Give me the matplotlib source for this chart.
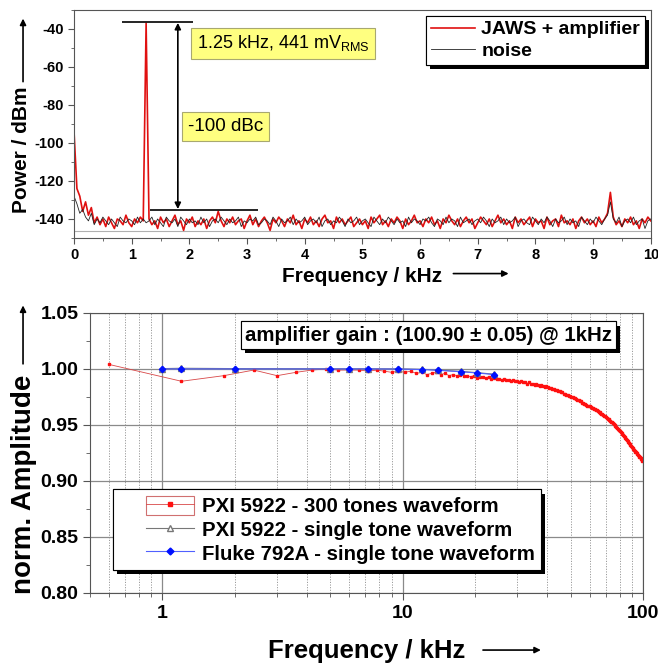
import matplotlib
matplotlib.use("Agg")
import matplotlib.pyplot as plt
import matplotlib.patheffects as pe
from matplotlib.lines import Line2D
from matplotlib.patches import Rectangle
from matplotlib.legend_handler import HandlerTuple, HandlerLine2D
from matplotlib.ticker import MultipleLocator, LogLocator, NullFormatter, FixedLocator
import numpy as np

plt.rcParams["font.family"] = ["Liberation Sans", "DejaVu Sans"]
plt.rcParams["font.weight"] = "bold"
plt.rcParams["axes.unicode_minus"] = False

# ---- spectrum (0..10 kHz, 0.05 kHz bins) ----
spec_freq = np.linspace(0, 10, 201)
jaws_dbm = [
    -94, -124, -128, -136, -131, -138, -134, -142, -139, -143, -140, -144, -139, -142, -145, -140, -141, -143, -138, -142,
    -144, -140, -142, -139, -141, -37, -140, -143, -141, -145, -139, -142, -140, -144, -141, -138, -143, -141, -146, -140,
    -142, -139, -144, -141, -143, -140, -145, -141, -139, -142, -136, -141, -144, -140, -142, -139, -143, -141, -140, -145,
    -141, -138, -143, -140, -144, -141, -139, -142, -146, -140, -142, -139, -141, -144, -140, -142, -138, -143, -141, -145,
    -140, -142, -139, -143, -141, -144, -140, -138, -142, -141, -145, -139, -142, -140, -143, -141, -139, -144, -142, -140,
    -143, -141, -145, -139, -142, -140, -138, -143, -141, -144, -140, -142, -139, -141, -145, -140, -143, -141, -138, -142,
    -141, -144, -140, -142, -139, -143, -141, -145, -140, -142, -138, -141, -143, -140, -144, -141, -139, -142, -140, -145,
    -142, -139, -141, -143, -140, -144, -141, -138, -142, -140, -143, -141, -145, -139, -142, -140, -143, -141, -139, -144,
    -140, -142, -141, -145, -139, -143, -141, -140, -144, -138, -142, -141, -143, -140, -145, -141, -139, -142, -140, -143,
    -141, -144, -139, -142, -140, -137, -126, -139, -143, -141, -144, -140, -142, -139, -143, -141, -145, -140, -142, -139,
    -141,
]
noise_dbm = [
    -128, -132, -137, -135, -139, -141, -137, -143, -140, -142, -139, -141, -143, -140, -142, -144, -139, -141, -142, -140,
    -141, -143, -139, -142, -140, -142, -141, -139, -143, -140, -142, -144, -139, -141, -142, -140, -144, -139, -141, -143,
    -140, -142, -141, -143, -139, -142, -140, -144, -141, -140, -142, -139, -141, -143, -140, -142, -141, -139, -144, -141,
    -142, -140, -141, -139, -143, -142, -140, -141, -143, -139, -141, -144, -140, -142, -141, -139, -143, -140, -142, -141,
    -139, -143, -141, -140, -142, -139, -144, -141, -140, -143, -141, -142, -139, -141, -144, -140, -142, -141, -139, -143,
    -141, -140, -142, -144, -139, -141, -143, -140, -142, -139, -141, -143, -140, -142, -141, -144, -139, -142, -140, -141,
    -143, -140, -141, -139, -142, -144, -140, -141, -143, -139, -142, -140, -141, -144, -139, -142, -141, -140, -143, -141,
    -140, -142, -139, -141, -144, -140, -142, -141, -139, -143, -140, -142, -141, -139, -144, -141, -140, -142, -143, -139,
    -141, -143, -140, -142, -139, -141, -144, -140, -142, -141, -139, -143, -140, -142, -141, -144, -139, -141, -143, -140,
    -142, -139, -141, -143, -140, -138, -131, -140, -142, -139, -144, -141, -140, -142, -139, -143, -141, -140, -145, -141,
    -140,
]
tone_dbm = -36.3
floor_dbm = -135.3

# ---- frequency response ----
multi_freq = 0.6 * np.arange(1, 167)
multi_amp = [
    1.004, 0.989, 0.994, 0.999, 0.994, 0.997, 0.999, 1.000, 0.999, 0.999,
    0.999, 0.998, 0.999, 0.998, 0.997, 0.998, 0.997, 0.998, 0.996, 0.997,
    0.995, 0.996, 0.997, 0.995, 0.996, 0.994, 0.995, 0.994, 0.995, 0.994,
    0.994, 0.993, 0.994, 0.992, 0.993, 0.993, 0.992, 0.993, 0.991, 0.992,
    0.991, 0.991, 0.990, 0.991, 0.990, 0.990, 0.989, 0.990, 0.989, 0.989,
    0.988, 0.989, 0.988, 0.988, 0.987, 0.988, 0.987, 0.987, 0.986, 0.987,
    0.986, 0.985, 0.986, 0.985, 0.984, 0.985, 0.984, 0.983, 0.983, 0.982,
    0.982, 0.981, 0.981, 0.980, 0.980, 0.979, 0.979, 0.978, 0.978, 0.977,
    0.977, 0.976, 0.976, 0.975, 0.975, 0.974, 0.974, 0.973, 0.972, 0.972,
    0.971, 0.971, 0.970, 0.970, 0.969, 0.969, 0.968, 0.967, 0.967, 0.9665,
    0.9660, 0.9655, 0.9650, 0.9645, 0.9639, 0.9634, 0.9629, 0.9623, 0.9618, 0.9612,
    0.9606, 0.9601, 0.9595, 0.9589, 0.9583, 0.9577, 0.9570, 0.9564, 0.9557, 0.9550,
    0.9543, 0.9536, 0.9529, 0.9522, 0.9515, 0.9507, 0.9499, 0.9491, 0.9483, 0.9475,
    0.9467, 0.9459, 0.9451, 0.9443, 0.9434, 0.9426, 0.9417, 0.9409, 0.9400, 0.9391,
    0.9382, 0.9373, 0.9364, 0.9355, 0.9346, 0.9337, 0.9328, 0.9319, 0.9310, 0.9300,
    0.9292, 0.9285, 0.9277, 0.9270, 0.9262, 0.9255, 0.9247, 0.9240, 0.9232, 0.9225,
    0.9217, 0.9210, 0.9202, 0.9195, 0.9187, 0.9180,
]
single_freq = [1.0, 1.2, 2.0, 5.0, 6.0, 7.2, 9.6, 12.0, 14.0, 17.5, 20.4, 24.0]
pxi_single_amp = [1.0003, 1.0006, 1.0003, 1.0002, 1.0002, 1.0002, 1.0001, 0.9997, 0.9990, 0.9978, 0.9967, 0.9953]
fluke_amp = [1.0000, 1.0000, 1.0000, 1.0000, 1.0000, 1.0000, 0.9999, 0.9995, 0.9988, 0.9975, 0.9964, 0.9950]

fig = plt.figure(figsize=(6.58, 6.64), dpi=100)
frame_col = "#555555"
shadow = [pe.withSimplePatchShadow(offset=(3, -3), shadow_rgbFace="k", alpha=1.0), pe.Normal()]
arrow_kw = dict(arrowstyle="-|>", color="k", lw=1.2, mutation_scale=9, shrinkA=0, shrinkB=0)

# ================= top: spectrum =================
ax1 = fig.add_axes([0.1125, 0.6416, 0.8765, 0.3434])
ax1.axhline(-146.2, color="#b0b0b0", lw=0.8, zorder=0)
ax1.plot(spec_freq, jaws_dbm, color="#e01010", lw=1.2, label="JAWS + amplifier")
ax1.plot(spec_freq, noise_dbm, color="#222222", lw=0.6, label="noise")
ax1.set_xlim(0, 10)
ax1.set_ylim(-150, -30)
ax1.xaxis.set_major_locator(MultipleLocator(1))
ax1.xaxis.set_minor_locator(MultipleLocator(0.5))
ax1.yaxis.set_major_locator(FixedLocator([-140, -120, -100, -80, -60, -40]))
ax1.yaxis.set_minor_locator(FixedLocator([-150, -130, -110, -90, -70, -50, -30]))
ax1.tick_params(which="both", direction="out", labelsize=10.5, color=frame_col)
ax1.tick_params(which="major", length=4)
ax1.tick_params(which="minor", length=2.5)
for s in ax1.spines.values():
    s.set_color(frame_col)

# level markers and double arrow
ax1.hlines(tone_dbm, 0.83, 2.06, color="k", lw=1.2)
ax1.hlines(floor_dbm, 1.32, 3.19, color="k", lw=1.2)
ax1.annotate("", xy=(1.8, tone_dbm - 0.5), xytext=(1.8, floor_dbm + 0.5),
             arrowprops=dict(arrow_kw, arrowstyle="<|-|>"))
yellow = dict(boxstyle="square,pad=0.3", facecolor="#ffff80", edgecolor="#a8a870", lw=0.8)
ax1.text(2.13, -47.6, r"1.25 kHz, 441 mV$_\mathregular{RMS}$", fontsize=13, fontweight="normal",
         va="center", ha="left", bbox=yellow)
ax1.text(1.97, -91.3, "-100 dBc", fontsize=13.5, fontweight="normal", va="center", ha="left", bbox=yellow)

leg1 = ax1.legend(loc="upper right", bbox_to_anchor=(0.9896, 0.974), fontsize=14, fancybox=False,
                  edgecolor="k", framealpha=1, handlelength=2.3, borderpad=0.25, labelspacing=0.2,
                  handletextpad=0.3, borderaxespad=0)
leg1.get_frame().set_linewidth(0.8)
leg1.get_frame().set_path_effects(shadow)

fig.text(0.551, 0.584, "Frequency / kHz", fontsize=15, ha="center", va="center")
ax1.annotate("", xy=(0.773, 0.588), xytext=(0.689, 0.588), xycoords="figure fraction", arrowprops=arrow_kw)
fig.text(0.032, 0.775, "Power / dBm", fontsize=15, rotation=90, ha="center", va="center")
ax1.annotate("", xy=(0.035, 0.972), xytext=(0.035, 0.877), xycoords="figure fraction", arrowprops=arrow_kw)

# ================= bottom: frequency response =================
ax2 = fig.add_axes([0.137, 0.107, 0.840, 0.4217])
ax2.set_xscale("log")
ax2.set_xlim(0.5, 100)
ax2.set_ylim(0.80, 1.05)
ax2.xaxis.set_minor_locator(LogLocator(base=10, subs=np.arange(2, 10)))
ax2.xaxis.set_minor_formatter(NullFormatter())
ax2.set_xticks([1, 10, 100])
ax2.set_xticklabels(["1", "10", "100"])
ax2.yaxis.set_major_locator(MultipleLocator(0.05))
ax2.yaxis.set_minor_locator(MultipleLocator(0.025))
ax2.yaxis.set_major_formatter(plt.FormatStrFormatter("%.2f"))
ax2.grid(which="major", color="#8a8a8a", lw=0.9)
ax2.grid(which="minor", axis="x", color="#9a9a9a", lw=0.7, ls=(0, (1.2, 1.5)))
ax2.set_axisbelow(True)
ax2.tick_params(which="both", direction="out", labelsize=14, color=frame_col)
ax2.tick_params(which="major", length=5)
ax2.tick_params(which="minor", length=3)
for s in ax2.spines.values():
    s.set_color(frame_col)

ax2.plot(multi_freq, multi_amp, color="#d84848", lw=0.6, marker="s", ms=1.9,
         mfc="#ff1010", mec="#ff1010")
ax2.plot(single_freq, pxi_single_amp, color="#777777", lw=0.8, marker="^", ms=4.5,
         mfc="white", mec="#777777")
ax2.plot(single_freq, fluke_amp, color="#5060ff", lw=0.8, marker="D", ms=3.2,
         mfc="#0010ff", mec="#0010ff")

ann = ax2.text(0.612, 0.921, "amplifier gain : (100.90 \u00b1 0.05) @ 1kHz", transform=ax2.transAxes,
               fontsize=14.7, ha="center", va="center",
               bbox=dict(boxstyle="square,pad=0.2", facecolor="white", edgecolor="k", lw=0.8))
ann.get_bbox_patch().set_path_effects(shadow)

h_multi = (Rectangle((0, 0), 1, 1, fill=False, edgecolor="#d07070", lw=0.8),
           Line2D([], [], color="#d84848", lw=0.6, marker="s", ms=2.4, mfc="#ff1010", mec="#ff1010"))
h_pxi = Line2D([], [], color="#777777", lw=0.8, marker="^", ms=5, mfc="white", mec="#777777")
h_fluke = Line2D([], [], color="#5060ff", lw=0.8, marker="D", ms=3.5, mfc="#0010ff", mec="#0010ff")
hpad = 1.32
leg2 = ax2.legend([h_multi, h_pxi, h_fluke],
                  ["PXI 5922 - 300 tones waveform", "PXI 5922 - single tone waveform",
                   "Fluke 792A - single tone waveform"],
                  handler_map={tuple: HandlerTuple(ndivide=1, xpad=hpad),
                               Line2D: HandlerLine2D(xpad=hpad)},
                  loc="lower left", bbox_to_anchor=(0.0416, 0.082), fontsize=14.7, fancybox=False,
                  edgecolor="k", framealpha=1, handlelength=3.68, handleheight=1.1, borderpad=0.3,
                  labelspacing=0.15, handletextpad=0.35, borderaxespad=0)
leg2.get_frame().set_linewidth(0.8)
leg2.get_frame().set_path_effects(shadow)

fig.text(0.557, 0.02, "Frequency / kHz", fontsize=18.5, ha="center", va="center")
ax2.annotate("", xy=(0.822, 0.021), xytext=(0.734, 0.021), xycoords="figure fraction", arrowprops=arrow_kw)
fig.text(0.036, 0.27, "norm. Amplitude", fontsize=20, rotation=90, ha="center", va="center")
ax2.annotate("", xy=(0.035, 0.54), xytext=(0.035, 0.452), xycoords="figure fraction", arrowprops=arrow_kw)

fig.savefig("out.png", dpi=100)
